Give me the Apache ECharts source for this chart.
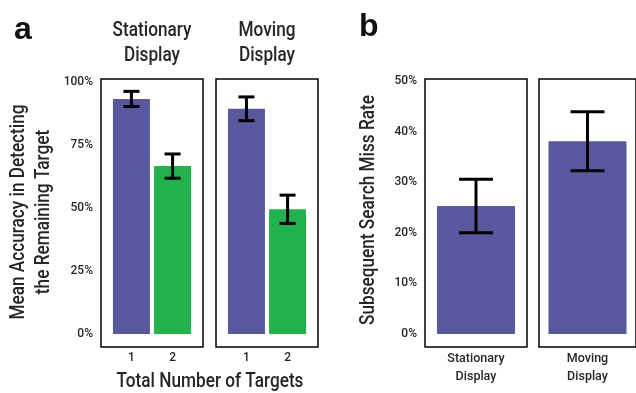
<!DOCTYPE html>
<html><head><meta charset="utf-8">
<script src="https://cdn.jsdelivr.net/npm/echarts@6/dist/echarts.min.js"></script>
<style>html,body{margin:0;padding:0;background:#fff}#c{width:636px;height:393px}</style>
</head><body><div id="c"></div>
<script>
// Panel a data
const facetsA = ["Stationary\nDisplay", "Moving\nDisplay"];
const targetCounts = [1, 2];
const targetLabels = ["1", "2"];
const accStationary = [93.1, 66.5];
const accStationaryErr = [3.0, 4.8];
const accMoving = [89.2, 49.4];
const accMovingErr = [4.7, 5.6];
const ticksA = [0, 25, 50, 75, 100];
// Panel b data
const displaysB = ["Stationary\nDisplay", "Moving\nDisplay"];
const missRate = [25.3, 38.1];
const missRateErr = [5.3, 5.85];
const ticksB = [0, 10, 20, 30, 40, 50];

const PURPLE = '#59589E', GREEN = '#21B24B';
const FONT = 'Roboto';
const TXT = '#262626';

const chart = echarts.init(document.getElementById('c'), null, {renderer: 'canvas'});

const gridBox = {show: true, borderColor: '#000', borderWidth: 1.5, backgroundColor: '#fff', containLabel: false};
const grids = [
  Object.assign({left: 101, top: 79, width: 102, height: 268}, gridBox),
  Object.assign({left: 216, top: 79, width: 102, height: 268}, gridBox),
  Object.assign({left: 425, top: 79, width: 102, height: 268}, gridBox),
  Object.assign({left: 539, top: 79, width: 103, height: 268}, gridBox)
];

function xValueAxis(gi) {
  return {
    type: 'value', gridIndex: gi, min: 0.26, max: 2.74,
    axisLine: {show: false}, axisTick: {show: false}, splitLine: {show: false},
    axisLabel: {customValues: targetCounts, formatter: v => targetLabels[targetCounts.indexOf(v)],
      fontFamily: FONT, fontWeight: 500, fontSize: 12, color: TXT, margin: 5}
  };
}
function xCatAxis(gi, idx) {
  return {
    type: 'category', gridIndex: gi, data: [displaysB[idx]],
    axisLine: {show: false}, axisTick: {show: false}, splitLine: {show: false},
    axisLabel: {fontFamily: FONT, fontWeight: 500, fontSize: 12.5, color: TXT, margin: 3, lineHeight: 18}
  };
}
function yAxisA(gi, show) {
  return {
    type: 'value', gridIndex: gi, min: -5.15, max: 101.0,
    axisLine: {show: false}, axisTick: {show: false}, splitLine: {show: false},
    axisLabel: {show: show, customValues: ticksA, formatter: v => v + '%',
      fontFamily: FONT, fontWeight: 500, fontSize: 12, color: TXT, margin: 8}
  };
}
function yAxisB(gi, show) {
  return {
    type: 'value', gridIndex: gi, min: -2.57, max: 50.4,
    axisLine: {show: false}, axisTick: {show: false}, splitLine: {show: false},
    axisLabel: {show: show, customValues: ticksB, formatter: v => v + '%',
      fontFamily: FONT, fontWeight: 500, fontSize: 12, color: TXT, margin: 8}
  };
}

function errRender(capW) {
  return function (params, api) {
    const x = api.value(0), lo = api.value(1), hi = api.value(2);
    const pHi = api.coord([x, hi]), pLo = api.coord([x, lo]);
    const st = {stroke: '#000', lineWidth: 3, lineCap: 'butt'};
    return {type: 'group', children: [
      {type: 'line', shape: {x1: pHi[0], y1: pHi[1], x2: pLo[0], y2: pLo[1]}, style: st},
      {type: 'line', shape: {x1: pHi[0] - capW / 2, y1: pHi[1], x2: pHi[0] + capW / 2, y2: pHi[1]}, style: st},
      {type: 'line', shape: {x1: pLo[0] - capW / 2, y1: pLo[1], x2: pLo[0] + capW / 2, y2: pLo[1]}, style: st}
    ]};
  };
}

const series = [];
[[accStationary, accStationaryErr], [accMoving, accMovingErr]].forEach(([vals, errs], gi) => {
  series.push({
    type: 'bar', xAxisIndex: gi, yAxisIndex: gi, barWidth: 37,
    data: vals.map((v, i) => ({value: [targetCounts[i], v], itemStyle: {color: i === 0 ? PURPLE : GREEN}})),
    silent: true
  });
  series.push({
    type: 'custom', xAxisIndex: gi, yAxisIndex: gi, renderItem: errRender(16), z: 5,
    data: vals.map((v, i) => [targetCounts[i], v - errs[i], v + errs[i]])
  });
});
missRate.forEach((v, i) => {
  const gi = 2 + i;
  series.push({
    type: 'bar', xAxisIndex: gi, yAxisIndex: gi, barWidth: 78,
    data: [{value: v, itemStyle: {color: PURPLE}}], silent: true
  });
  series.push({
    type: 'custom', xAxisIndex: gi, yAxisIndex: gi, renderItem: errRender(34), z: 5,
    data: [[0, v - missRateErr[i], v + missRateErr[i]]]
  });
});

const titleStyle = {fontFamily: FONT, fontWeight: 500, fontSize: 20, fill: TXT, lineHeight: 25};
const SX = 0.86;
chart.setOption({
  animation: false,
  textStyle: {fontFamily: FONT},
  grid: grids,
  xAxis: [xValueAxis(0), xValueAxis(1), xCatAxis(2, 0), xCatAxis(3, 1)],
  yAxis: [yAxisA(0, true), yAxisA(1, false), yAxisB(2, true), yAxisB(3, false)],
  series: series,
  graphic: [
    {type: 'text', x: 14, y: 14, style: {text: 'a', fontFamily: '"Liberation Sans"', fontWeight: 'bold', fontSize: 32, fill: '#111', verticalAlign: 'top'}},
    {type: 'text', x: 359, y: 11, style: {text: 'b', fontFamily: '"Liberation Sans"', fontWeight: 'bold', fontSize: 32, fill: '#111', verticalAlign: 'top'}},
    {type: 'text', x: 152, y: 18, scaleX: SX, style: Object.assign({text: facetsA[0], align: 'center', verticalAlign: 'top'}, titleStyle)},
    {type: 'text', x: 267, y: 18, scaleX: SX, style: Object.assign({text: facetsA[1], align: 'center', verticalAlign: 'top'}, titleStyle)},
    {type: 'text', x: 210, y: 382, scaleX: SX, style: Object.assign({text: 'Total Number of Targets', align: 'center', verticalAlign: 'middle'}, titleStyle)},
    {type: 'text', x: 31, y: 212, rotation: Math.PI / 2, scaleX: SX, style: Object.assign({text: 'Mean Accuracy in Detecting\nthe Remaining Target', align: 'center', verticalAlign: 'middle'}, titleStyle)},
    {type: 'text', x: 369, y: 210, rotation: Math.PI / 2, scaleX: SX, style: Object.assign({text: 'Subsequent Search Miss Rate', align: 'center', verticalAlign: 'middle'}, titleStyle)}
  ]
});
</script></body></html>
